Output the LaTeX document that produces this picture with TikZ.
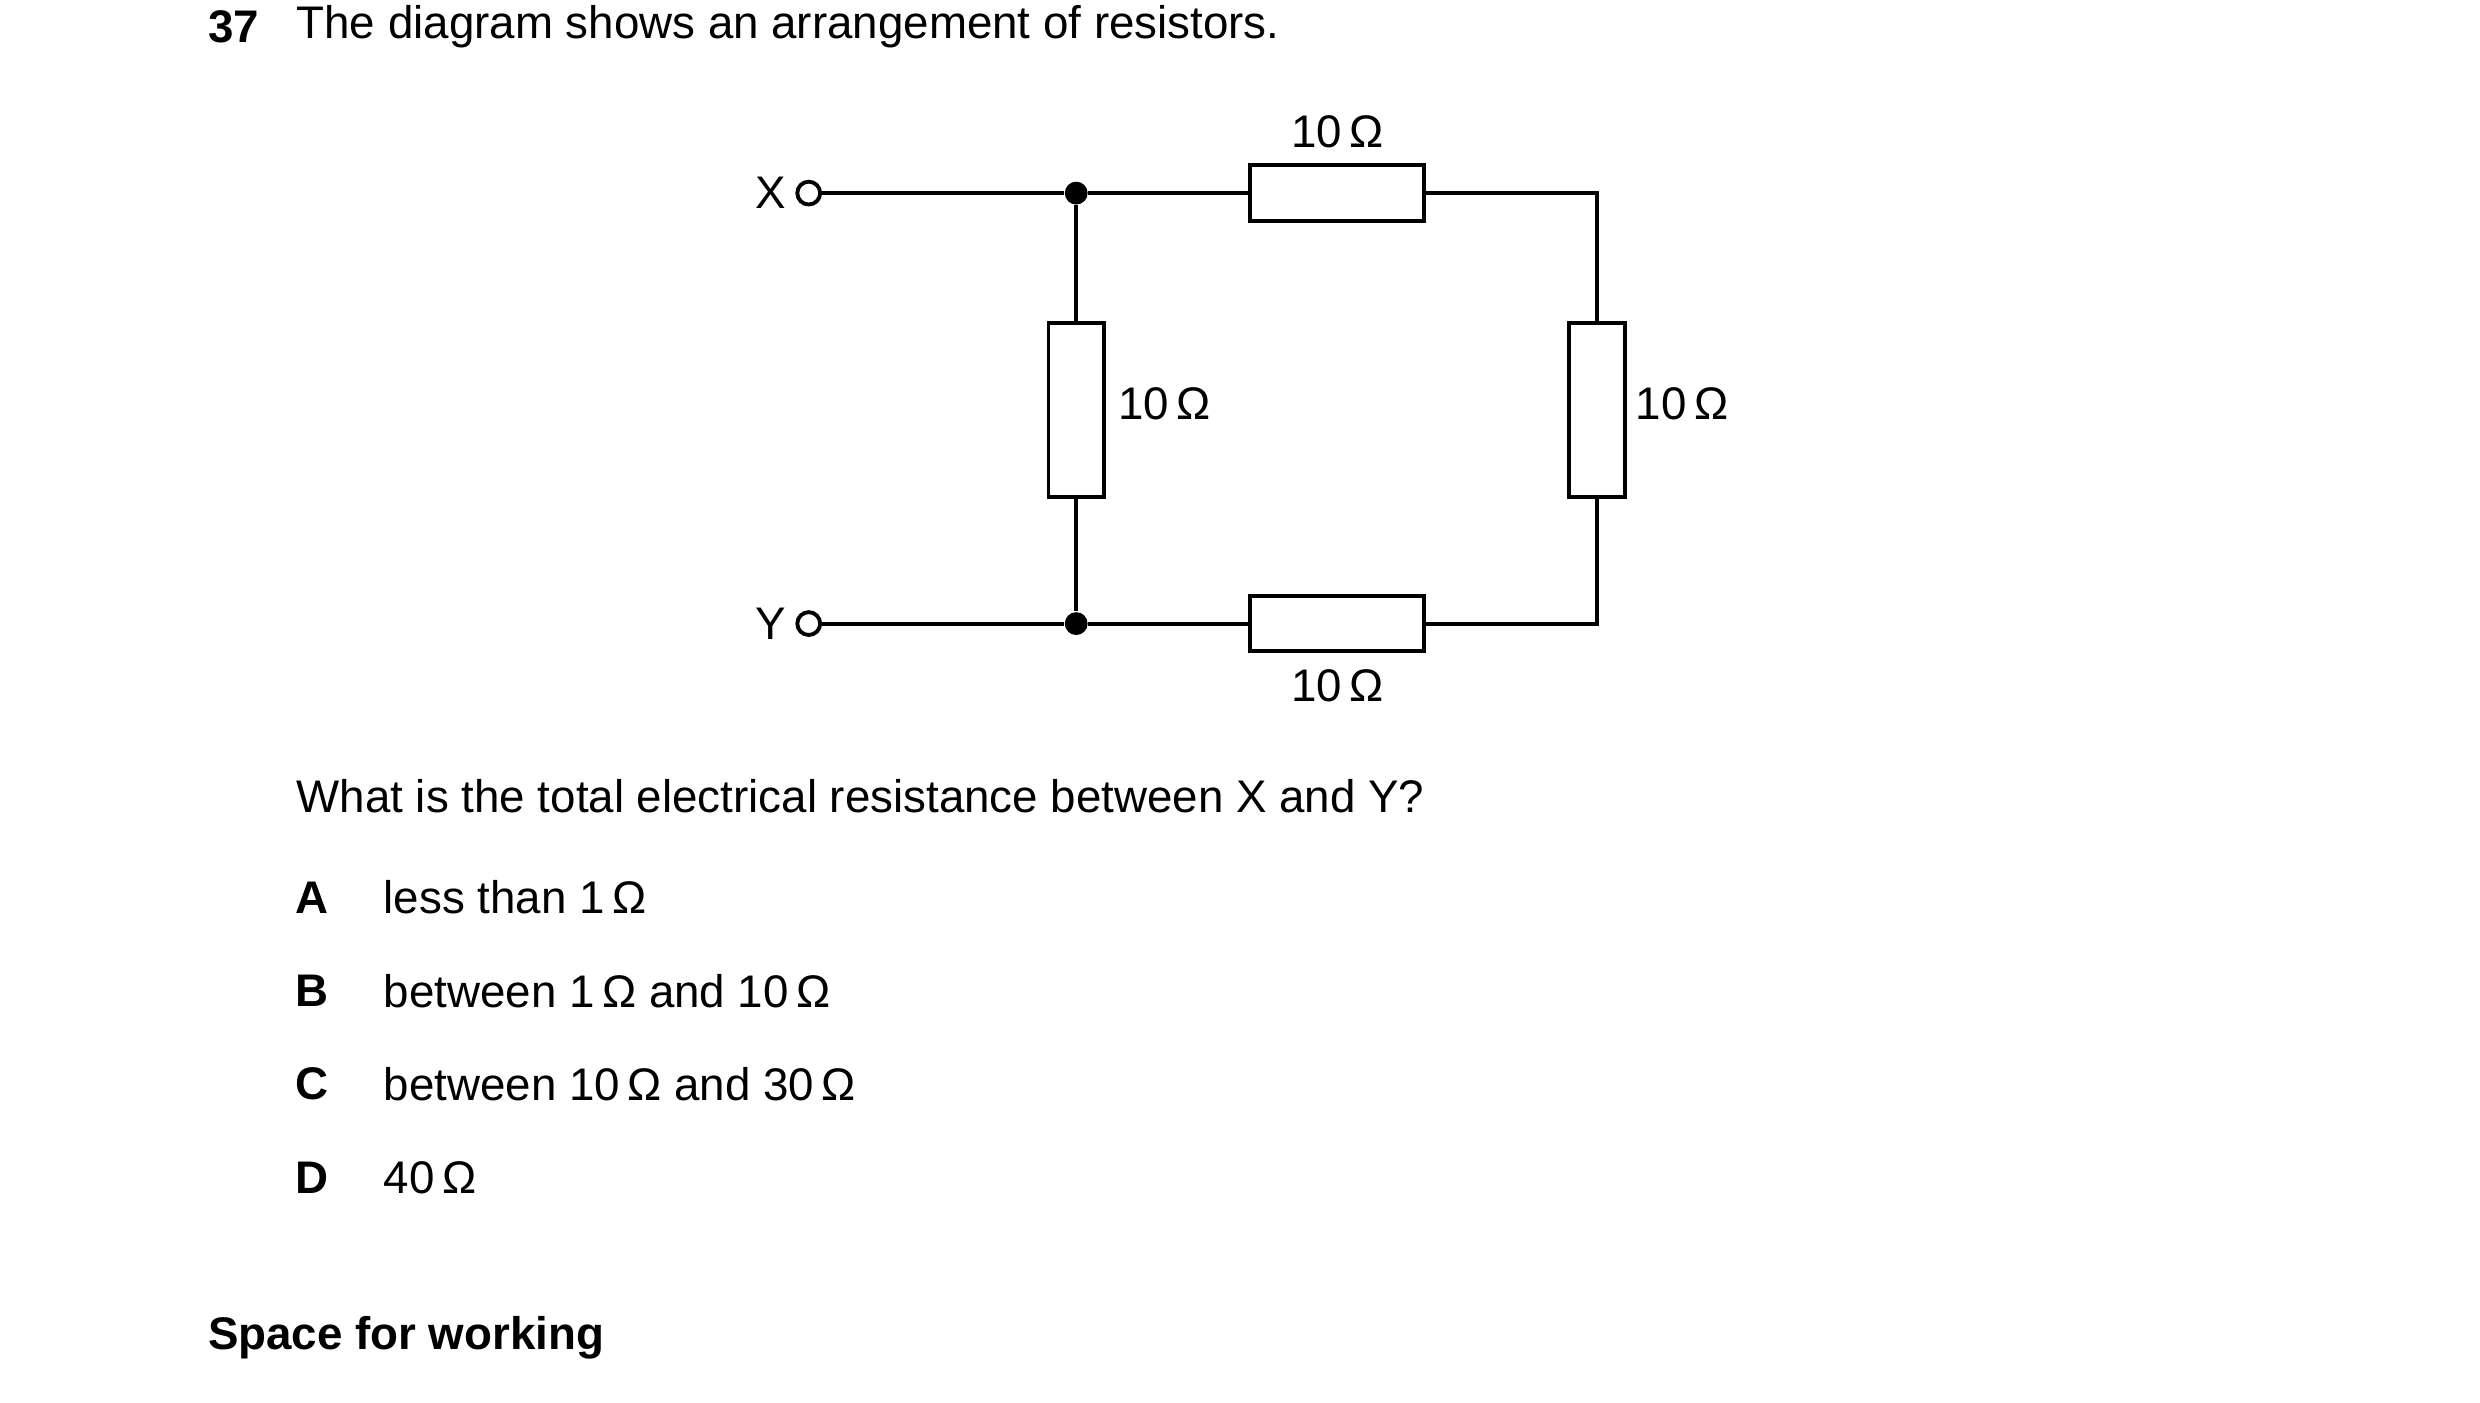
\documentclass[tikz,border=0pt]{standalone}
\usepackage{fontspec}
\setmainfont{Liberation Sans}
\begin{document}
\begin{tikzpicture}[x=0.015826cm,y=-0.015826cm,
  txt/.style={inner sep=0pt,font=\fontsize{13}{15}\selectfont},
  res/.style={draw,line width=1.1pt,fill=white,inner sep=0pt},
  w/.style={line width=1.1pt},
  term/.style={circle,draw,line width=1.1pt,fill=white,minimum size=6.5pt,inner sep=0pt},
  dot/.style={circle,fill=black,minimum size=6.5pt,inner sep=0pt}]
\useasboundingbox (0,0) rectangle (1567,886);
\node[txt,anchor=west,font=\fontsize{13}{15}\selectfont\bfseries] (n) at (131,17) {37};
\node[txt,anchor=west] (t) at (187,17) {The diagram shows an arrangement of resistors.};
% circuit
\node[term] (X) at (511,122) {};
\node[term] (Y) at (511,394) {};
\node[txt,anchor=east] (xl) at (497,122) {X};
\node[txt,anchor=east] (yl) at (497,394) {Y};
\node[dot] (J1) at (680,122) {};
\node[dot] (J2) at (680,394) {};
\coordinate (C1) at (1009,122);
\coordinate (C2) at (1009,394);
\node[res,minimum width=110*0.015826cm,minimum height=35*0.015826cm] (RT) at (845,122) {};
\node[res,minimum width=110*0.015826cm,minimum height=35*0.015826cm] (RB) at (845,394) {};
\node[res,minimum width=35*0.015826cm,minimum height=110*0.015826cm] (RL) at (680,259) {};
\node[res,minimum width=35*0.015826cm,minimum height=110*0.015826cm] (RR) at (1009,259) {};
\draw[w] (X) -- (J1) -- (RT.west);
\draw[w] (RT.east) -- (C1) -- (RR.north);
\draw[w] (RR.south) -- (C2) -- (RB.east);
\draw[w] (RB.west) -- (J2) -- (Y);
\draw[w] (J1) -- (RL.north);
\draw[w] (RL.south) -- (J2);
\node[txt] (lt) at (845,83) {10\,Ω};
\node[txt] (lb) at (845,433) {10\,Ω};
\node[txt,anchor=west] (ll) at (706,255) {10\,Ω};
\node[txt,anchor=west] (lr) at (1033,255) {10\,Ω};
% question
\node[txt,anchor=west] (q) at (187,503) {What is the total electrical resistance between X and Y?};
\foreach \L/\T/\Y [count=\i] in {A/less than 1\,Ω/567,B/between 1\,Ω and 10\,Ω/626,C/between 10\,Ω and 30\,Ω/685,D/40\,Ω/744}{
  \node[txt,font=\fontsize{13}{15}\selectfont\bfseries] (L\i) at (197,\Y) {\L};
  \node[txt,anchor=west] (T\i) at (242,\Y) {\T};
}
\node[txt,anchor=west,font=\fontsize{13}{15}\selectfont\bfseries] (s) at (131,845) {Space for working};
\end{tikzpicture}
\end{document}
